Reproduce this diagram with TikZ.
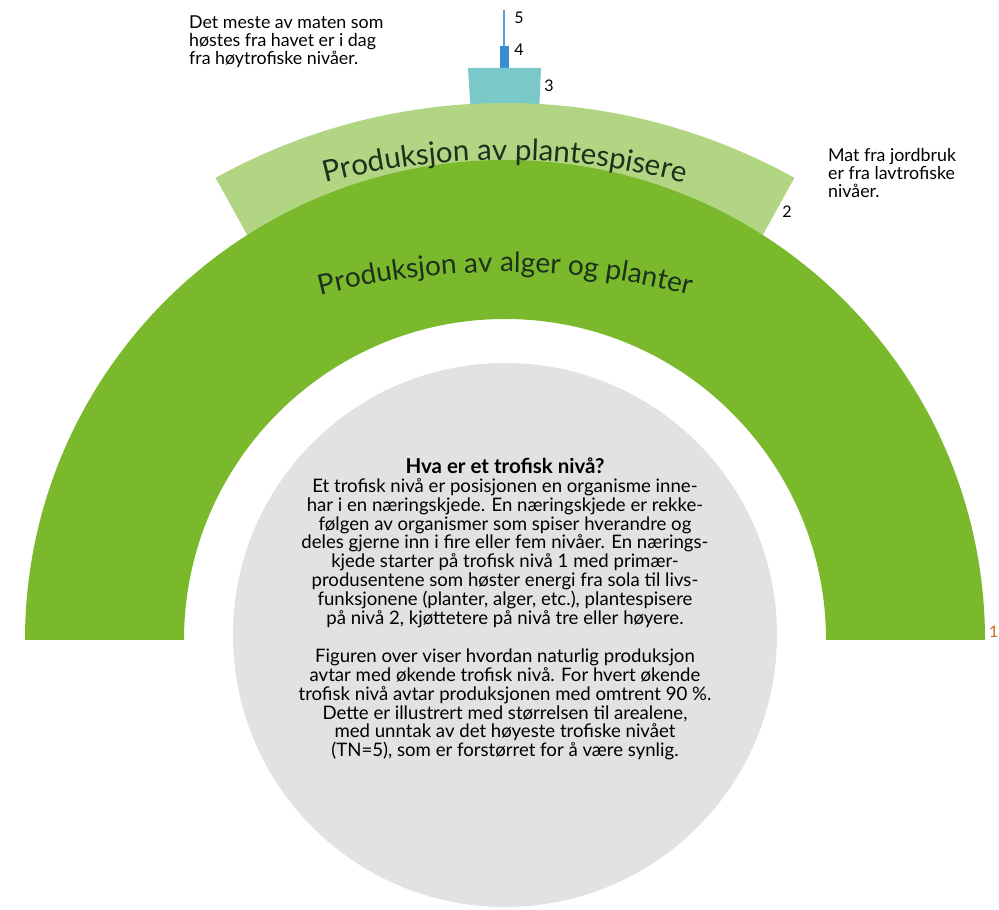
\documentclass[tikz,border=0pt]{standalone}
\usepackage{fontspec}
\setmainfont{Lato}
\usetikzlibrary{calc}
\usetikzlibrary{decorations.text}
\definecolor{alg}{RGB}{122,185,43}
\definecolor{plant}{RGB}{178,213,131}
\definecolor{tn3}{RGB}{122,200,200}
\definecolor{tn4}{RGB}{58,141,210}
\definecolor{tn5}{RGB}{90,160,215}
\definecolor{sirkel}{RGB}{226,226,226}
\definecolor{skrift}{RGB}{30,48,28}
\definecolor{tall}{RGB}{200,105,30}
\tikzset{nivatall/.style={font=\fontsize{16}{16}\selectfont, inner sep=0pt},
  merknad/.style={font=\fontsize{17.8}{18}\selectfont, align=left, inner sep=0pt, anchor=north west}}

\begin{document}
\begin{tikzpicture}[x=1pt,y=1pt]
\useasboundingbox (0,0) rectangle (999,910);
% trofisk niva 5, 4 og 3
\draw [tn5, line width=2pt](504,864)--(504,900);
\fill [tn4](500,842) rectangle (509,864);
\fill [tn3](468,842)--(541,842)--(539,795)--(471,795)--cycle;
% niva 2
\fill [plant]($(505,210)+(61:597)$) arc[start angle=61, end angle=119, radius=597]
  --($(505,210)+(119:520)$) arc[start angle=119, end angle=61, radius=520]--cycle;
% niva 1
\fill [alg]($(505,270)+(0:480)$) arc[start angle=0, end angle=180, radius=480]
  --($(505,270)+(180:321)$) arc[start angle=180, end angle=0, radius=321]--cycle;
\fill [sirkel](505,275) circle (272);
% tekst langs buene
\path [decorate, decoration={text along path, text align=center,
  text={|\fontsize{29.5}{29.5}\selectfont\color{skrift}|Produksjon av plantespisere}}]
  ($(505,35)+(112:715)$) arc[start angle=112, end angle=68, radius=715];
\path [decorate, decoration={text along path, text align=center,
  text={|\fontsize{28}{28}\selectfont\color{skrift}|Produksjon av alger og planter}}]
  ($(505,-112)+(114:750)$) arc[start angle=114, end angle=66, radius=750];
% tall
\node [nivatall] (t5) at (519,892) {5};
\node [nivatall] (t4) at (519,860) {4};
\node [nivatall] (t3) at (549,824) {3};
\node [nivatall] (t2) at (787,698) {2};
\node [nivatall, text=tall, anchor=west] (t1) at (989,278) {1};
\node [merknad] (hav) at (189,894) {Det meste av maten som\\høstes fra havet er i dag\\fra høytrofiske nivåer.};
\node [merknad] (jord) at (828,762) {Mat fra jordbruk\\er fra lavtrofiske\\nivåer.};
\node [font=\fontsize{18.6}{18.9}\selectfont, align=center] (boks) at (505,301)
  {{\fontsize{20.5}{18.9}\selectfont\bfseries Hva er et trofisk nivå?}\\
  Et trofisk nivå er posisjonen en organisme inne-\\
  har i en næringskjede. En næringskjede er rekke-\\
  følgen av organismer som spiser hverandre og\\
  deles gjerne inn i fire eller fem nivåer. En nærings-\\
  kjede starter på trofisk nivå 1 med primær-\\
  produsentene som høster energi fra sola til livs-\\
  funksjonene (planter, alger, etc.), plantespisere\\
  på nivå 2, kjøttetere på nivå tre eller høyere.\\[18.9pt]
  Figuren over viser hvordan naturlig produksjon\\
  avtar med økende trofisk nivå. For hvert økende\\
  trofisk nivå avtar produksjonen med omtrent 90 \%.\\
  Dette er illustrert med størrelsen til arealene,\\
  med unntak av det høyeste trofiske nivået\\
  (TN=5), som er forstørret for å være synlig.};
\end{tikzpicture}
\end{document}
